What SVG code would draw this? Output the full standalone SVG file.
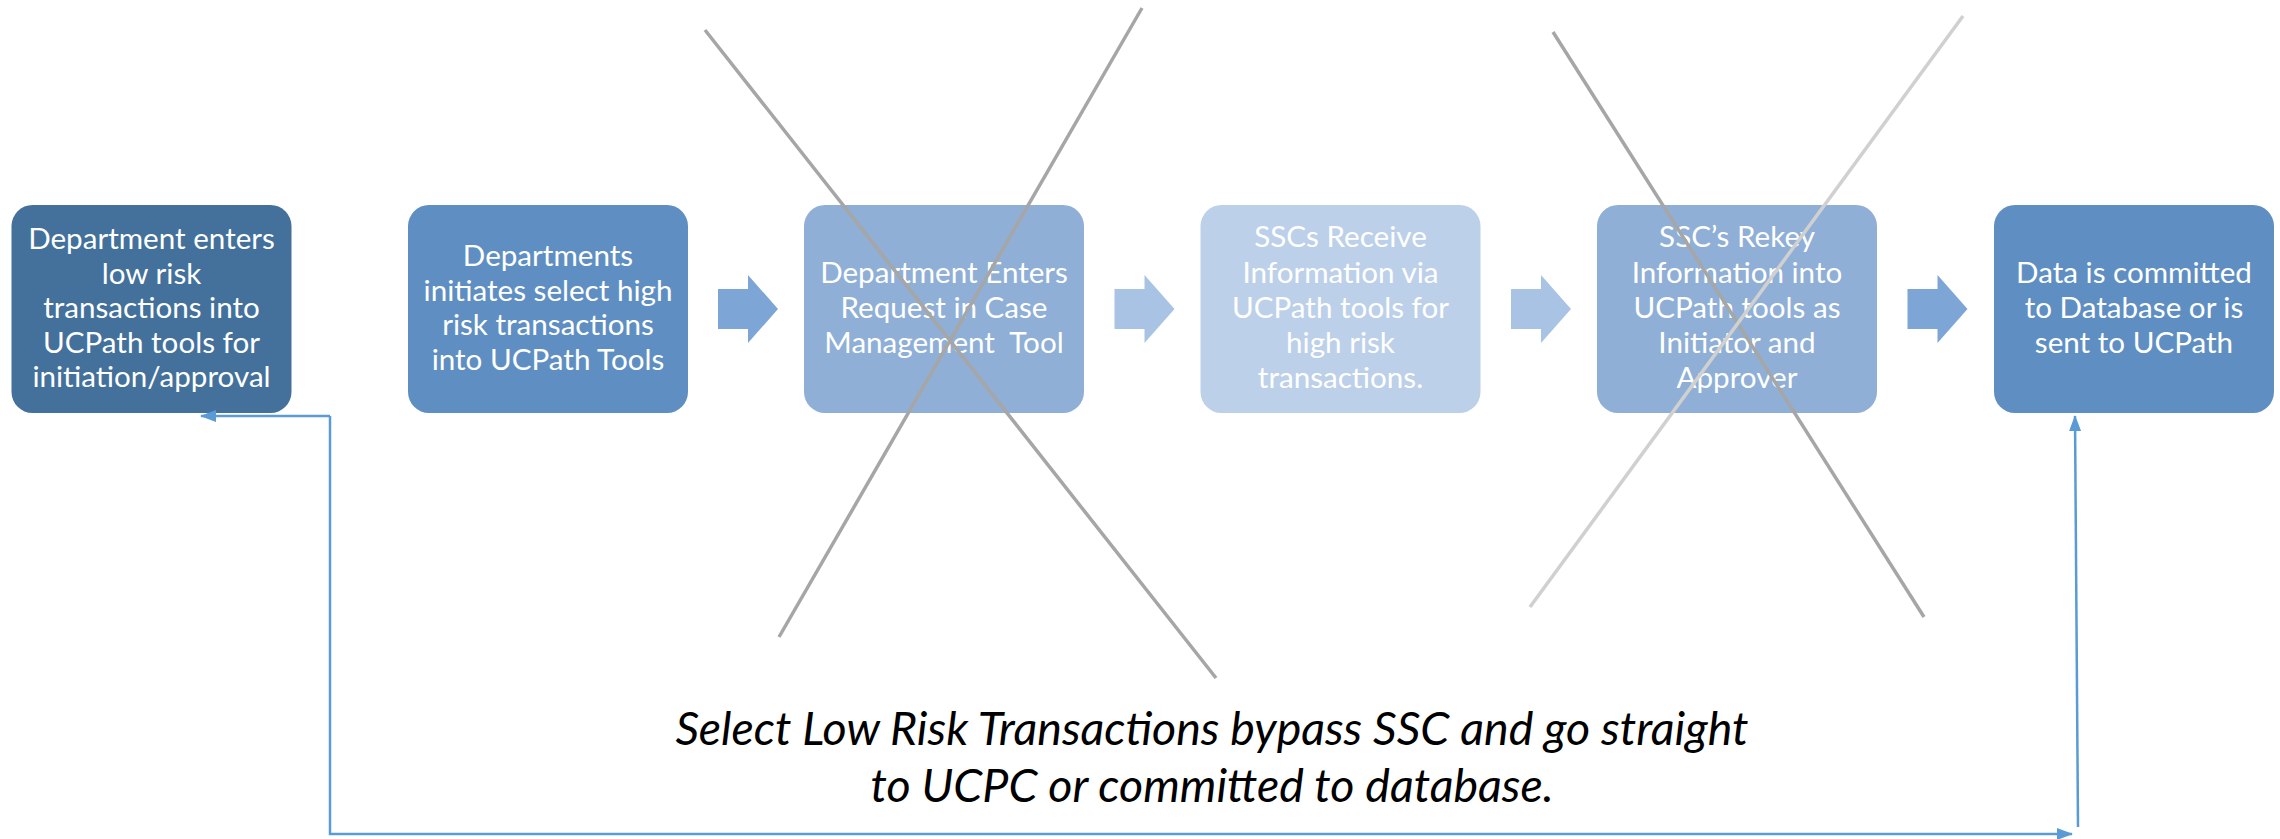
<svg xmlns="http://www.w3.org/2000/svg" width="2280" height="839" viewBox="0 0 2280 839">
<defs>
<style>
.box{stroke:none}
.lbl{font-family:Lato,"Liberation Sans",sans-serif;font-size:29.6px;fill:#ffffff;text-anchor:middle}
.note{font-family:Lato,"Liberation Sans",sans-serif;font-size:46.5px;font-style:italic;fill:#000000;text-anchor:middle}
.conn{fill:none;stroke:#5B9BD5;stroke-width:2.5}
.xd{stroke:#A6A6A6;stroke-width:3.5}
.xl{stroke:#D0D0D0;stroke-width:3.5}
</style>
<marker id="ah" viewBox="0 0 16 12" refX="15" refY="6" markerWidth="16" markerHeight="12" markerUnits="userSpaceOnUse" orient="auto">
<path d="M0,0 L16,6 L0,12 Z" fill="#5B9BD5"/>
</marker>
</defs>
<rect width="2280" height="839" fill="#ffffff"/>
<g id="node1">
<rect class="box" x="11.5" y="205" width="280" height="208" rx="21" fill="#43719C"/>
<text class="lbl"><tspan x="151.5" y="249">Department enters</tspan><tspan x="151.5" y="283.5">low risk</tspan><tspan x="151.5" y="318">transactions into</tspan><tspan x="151.5" y="352.5">UCPath tools for</tspan><tspan x="151.5" y="387">initiation/approval</tspan></text>
</g>
<g id="node2">
<rect class="box" x="408" y="205" width="280" height="208" rx="21" fill="#5F8FC2"/>
<text class="lbl"><tspan x="548" y="266">Departments</tspan><tspan x="548" y="300.5">initiates select high</tspan><tspan x="548" y="335">risk transactions</tspan><tspan x="548" y="369.5">into UCPath Tools</tspan></text>
</g>
<g id="arrow1"><path d="M718,289 H748 V275 L778,309 L748,343 V329 H718 Z" fill="#7DA5D5"/></g>
<g id="node3">
<rect class="box" x="804" y="205" width="280" height="208" rx="21" fill="#8FAFD6"/>
<text class="lbl"><tspan x="944" y="283">Department Enters</tspan><tspan x="944" y="318">Request in Case</tspan><tspan x="944" y="353" xml:space="preserve">Management  Tool</tspan></text>
</g>
<g id="arrow2"><path d="M1114.5,289 H1144.5 V275 L1174.5,309 L1144.5,343 V329 H1114.5 Z" fill="#A9C3E4"/></g>
<g id="node4">
<rect class="box" x="1200.5" y="205" width="280" height="208" rx="21" fill="#BDD0E9"/>
<text class="lbl"><tspan x="1340.5" y="247">SSCs Receive</tspan><tspan x="1340.5" y="282.5">Information via</tspan><tspan x="1340.5" y="318">UCPath tools for</tspan><tspan x="1340.5" y="353">high risk</tspan><tspan x="1340.5" y="388">transactions.</tspan></text>
</g>
<g id="arrow3"><path d="M1511,289 H1541 V275 L1571,309 L1541,343 V329 H1511 Z" fill="#A9C3E4"/></g>
<g id="node5">
<rect class="box" x="1597" y="205" width="280" height="208" rx="21" fill="#8FAFD6"/>
<text class="lbl"><tspan x="1737" y="247">SSC’s Rekey</tspan><tspan x="1737" y="282.5">Information into</tspan><tspan x="1737" y="318">UCPath tools as</tspan><tspan x="1737" y="353">Initiator and</tspan><tspan x="1737" y="388">Approver</tspan></text>
</g>
<g id="arrow4"><path d="M1907.5,289 H1937.5 V275 L1967.5,309 L1937.5,343 V329 H1907.5 Z" fill="#7DA5D5"/></g>
<g id="node6">
<rect class="box" x="1994" y="205" width="280" height="208" rx="21" fill="#5F8FC2"/>
<text class="lbl"><tspan x="2134" y="283">Data is committed</tspan><tspan x="2134" y="318">to Database or is</tspan><tspan x="2134" y="353">sent to UCPath</tspan></text>
</g>
<g id="cross1">
<line class="xd" x1="705" y1="30" x2="1216" y2="678"/>
<line class="xd" x1="1142" y1="8" x2="779" y2="637"/>
</g>
<g id="cross2">
<line class="xd" x1="1553" y1="32" x2="1924" y2="617"/>
<line class="xl" x1="1963" y1="16" x2="1530" y2="607"/>
</g>
<g id="note">
<text class="note"><tspan x="1212" y="745">Select Low Risk Transactions bypass SSC and go straight</tspan><tspan x="1212" y="802">to UCPC or committed to database.</tspan></text>
</g>
<g id="connectors">
<path class="conn" d="M330,416 H201" marker-end="url(#ah)"/>
<path class="conn" d="M330,416 V834 H2072" marker-end="url(#ah)"/>
<path class="conn" d="M2078,827 L2075,416" marker-end="url(#ah)" stroke-width="2"/>
</g>
</svg>
